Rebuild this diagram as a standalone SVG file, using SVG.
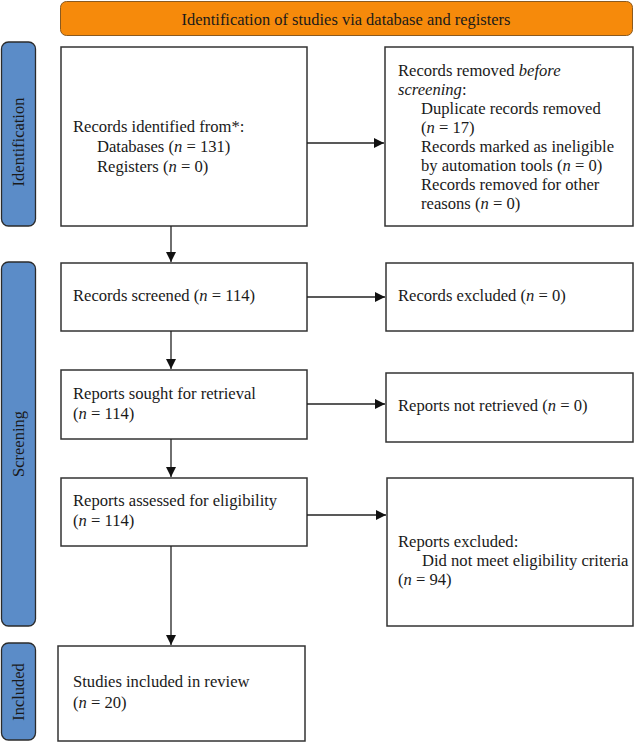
<svg xmlns="http://www.w3.org/2000/svg" width="634" height="744" viewBox="0 0 634 744">
<style>
.box{fill:#fff;stroke:#333;stroke-width:1.5}
.side{fill:#5b8cc8;stroke:#2b2b2b;stroke-width:1.3}
.t{font-family:"Liberation Serif",serif;font-size:16.6px;fill:#1a1a1a}
.st{font-family:"Liberation Serif",serif;font-size:16.5px;fill:#1a1a1a;text-anchor:middle}
.c{stroke:#222;stroke-width:1.3;fill:none;marker-end:url(#ah)}
</style>
<defs>
<marker id="ah" viewBox="0 0 10 10" refX="10" refY="5" markerWidth="10" markerHeight="10" markerUnits="userSpaceOnUse" orient="auto">
<path d="M0,0 L10,5 L0,10 z" fill="#111"/>
</marker>
</defs>
<rect width="634" height="744" fill="#fff"/>
<g id="header">
<rect x="60.5" y="1.5" width="572" height="34" rx="6" fill="#f68a0b" stroke="#8a5a20" stroke-width="1"/>
<text x="346" y="24.5" class="st" textLength="329" lengthAdjust="spacingAndGlyphs">Identification of studies via database and registers</text>
</g>
<g id="lbl-identification">
<rect x="1.5" y="42" width="34" height="184" rx="7" class="side"/>
<text class="st" transform="translate(24,142) rotate(-90)">Identification</text>
</g>
<g id="lbl-screening">
<rect x="1.5" y="262" width="34" height="364" rx="7" class="side"/>
<text class="st" transform="translate(24,444) rotate(-90)">Screening</text>
</g>
<g id="lbl-included">
<rect x="1.5" y="643" width="34" height="97" rx="7" class="side"/>
<text class="st" transform="translate(24,692) rotate(-90)">Included</text>
</g>
<g id="n-identified">
<rect x="61" y="47" width="246" height="179" class="box"/>
<text class="t" x="73" y="132">Records identified from*:</text>
<text class="t" x="97" y="152">Databases (<tspan font-style="italic">n</tspan> = 131)</text>
<text class="t" x="97" y="172">Registers (<tspan font-style="italic">n</tspan> = 0)</text>
</g>
<g id="n-removed">
<rect x="385" y="47" width="248" height="179" class="box"/>
<text class="t" x="398" y="76">Records removed <tspan font-style="italic">before</tspan></text>
<text class="t" x="398" y="95"><tspan font-style="italic">screening</tspan>:</text>
<text class="t" x="421" y="114">Duplicate records removed</text>
<text class="t" x="421" y="133">(<tspan font-style="italic">n</tspan> = 17)</text>
<text class="t" x="421" y="152">Records marked as ineligible</text>
<text class="t" x="421" y="171">by automation tools (<tspan font-style="italic">n</tspan> = 0)</text>
<text class="t" x="421" y="190">Records removed for other</text>
<text class="t" x="421" y="209">reasons (<tspan font-style="italic">n</tspan> = 0)</text>
</g>
<g id="n-screened">
<rect x="61" y="263" width="246" height="68" class="box"/>
<text class="t" x="73" y="301">Records screened (<tspan font-style="italic">n</tspan> = 114)</text>
</g>
<g id="n-excluded">
<rect x="386" y="263" width="247" height="68" class="box"/>
<text class="t" x="398" y="301">Records excluded (<tspan font-style="italic">n</tspan> = 0)</text>
</g>
<g id="n-sought">
<rect x="61" y="370" width="246" height="69" class="box"/>
<text class="t" x="73" y="399">Reports sought for retrieval</text>
<text class="t" x="73" y="419">(<tspan font-style="italic">n</tspan> = 114)</text>
</g>
<g id="n-notretrieved">
<rect x="386" y="373" width="247" height="69" class="box"/>
<text class="t" x="398" y="411">Reports not retrieved (<tspan font-style="italic">n</tspan> = 0)</text>
</g>
<g id="n-assessed">
<rect x="61" y="478" width="246" height="68" class="box"/>
<text class="t" x="73" y="506">Reports assessed for eligibility</text>
<text class="t" x="73" y="526">(<tspan font-style="italic">n</tspan> = 114)</text>
</g>
<g id="n-reportsexcluded">
<rect x="387" y="478" width="246" height="148" class="box"/>
<text class="t" x="398" y="547">Reports excluded:</text>
<text class="t" x="422" y="566">Did not meet eligibility criteria</text>
<text class="t" x="398" y="585">(<tspan font-style="italic">n</tspan> = 94)</text>
</g>
<g id="n-included">
<rect x="58" y="646" width="247" height="95" class="box"/>
<text class="t" x="73" y="687">Studies included in review</text>
<text class="t" x="73" y="708">(<tspan font-style="italic">n</tspan> = 20)</text>
</g>
<g id="connectors">
<path class="c" d="M171,226 V262"/>
<path class="c" d="M171,331 V369"/>
<path class="c" d="M171,439 V477"/>
<path class="c" d="M171,546 V645"/>
<path class="c" d="M307,143 H384"/>
<path class="c" d="M307,297 H385"/>
<path class="c" d="M307,404 H385"/>
<path class="c" d="M307,515 H386"/>
</g>
</svg>
